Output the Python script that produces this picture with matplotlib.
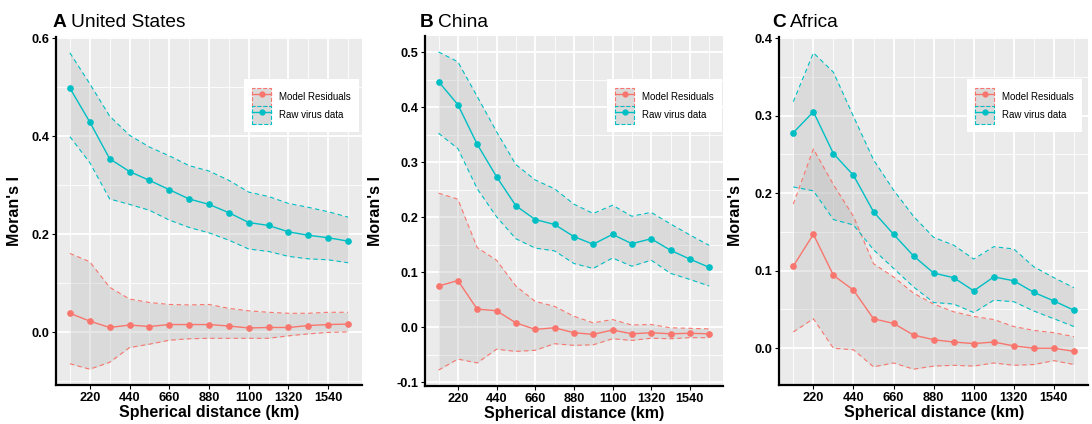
"""
Moran's I correlograms: raw virus data vs model residuals, three regions.
"""

import matplotlib
matplotlib.use("Agg")
import matplotlib.pyplot as plt
from matplotlib.lines import Line2D
from matplotlib.patches import Patch
from matplotlib.ticker import MultipleLocator

plt.rcParams["font.family"] = ["Liberation Sans", "DejaVu Sans"]

# --- data ---
distance = [110, 220, 330, 440, 550, 660, 770, 880, 990, 1100, 1210, 1320, 1430, 1540, 1650]

us_raw = [0.498, 0.429, 0.354, 0.328, 0.310, 0.291, 0.272, 0.261, 0.244, 0.224, 0.218, 0.205, 0.198, 0.193, 0.186]
us_raw_hi = [0.570, 0.507, 0.441, 0.402, 0.378, 0.360, 0.340, 0.329, 0.310, 0.286, 0.277, 0.263, 0.255, 0.246, 0.235]
us_raw_lo = [0.399, 0.346, 0.272, 0.261, 0.249, 0.229, 0.214, 0.203, 0.188, 0.170, 0.165, 0.155, 0.150, 0.148, 0.142]
us_res = [0.039, 0.023, 0.010, 0.015, 0.012, 0.016, 0.016, 0.016, 0.013, 0.009, 0.010, 0.010, 0.014, 0.016, 0.017]
us_res_hi = [0.161, 0.144, 0.092, 0.068, 0.061, 0.057, 0.056, 0.057, 0.049, 0.044, 0.041, 0.039, 0.039, 0.041, 0.041]
us_res_lo = [-0.064, -0.075, -0.061, -0.031, -0.024, -0.016, -0.013, -0.012, -0.012, -0.012, -0.012, -0.007, -0.003, 0.000, 0.001]

cn_raw = [0.447, 0.405, 0.333, 0.274, 0.221, 0.196, 0.187, 0.165, 0.151, 0.169, 0.152, 0.161, 0.140, 0.124, 0.109]
cn_raw_hi = [0.501, 0.483, 0.420, 0.356, 0.296, 0.268, 0.252, 0.224, 0.207, 0.222, 0.202, 0.209, 0.188, 0.168, 0.149]
cn_raw_lo = [0.353, 0.325, 0.252, 0.201, 0.161, 0.144, 0.139, 0.116, 0.107, 0.126, 0.111, 0.122, 0.098, 0.087, 0.075]
cn_res = [0.075, 0.085, 0.033, 0.030, 0.008, -0.004, -0.001, -0.010, -0.013, -0.005, -0.012, -0.010, -0.012, -0.011, -0.012]
cn_res_hi = [0.244, 0.233, 0.145, 0.122, 0.075, 0.047, 0.038, 0.020, 0.008, 0.014, 0.004, 0.005, -0.001, -0.002, -0.003]
cn_res_lo = [-0.078, -0.058, -0.065, -0.040, -0.044, -0.042, -0.030, -0.033, -0.032, -0.021, -0.024, -0.020, -0.021, -0.019, -0.019]

af_raw = [0.278, 0.305, 0.251, 0.223, 0.176, 0.147, 0.119, 0.097, 0.091, 0.074, 0.092, 0.087, 0.072, 0.061, 0.049]
af_raw_hi = [0.318, 0.381, 0.356, 0.299, 0.243, 0.204, 0.170, 0.143, 0.133, 0.115, 0.131, 0.128, 0.105, 0.091, 0.078]
af_raw_lo = [0.208, 0.203, 0.166, 0.159, 0.127, 0.103, 0.079, 0.059, 0.057, 0.046, 0.062, 0.060, 0.048, 0.038, 0.028]
af_res = [0.106, 0.147, 0.094, 0.075, 0.038, 0.032, 0.017, 0.011, 0.008, 0.006, 0.008, 0.003, 0.000, 0.000, -0.004]
af_res_hi = [0.186, 0.257, 0.211, 0.170, 0.109, 0.092, 0.071, 0.057, 0.047, 0.041, 0.037, 0.028, 0.023, 0.020, 0.015]
af_res_lo = [0.021, 0.038, 0.000, -0.002, -0.024, -0.019, -0.027, -0.023, -0.022, -0.023, -0.019, -0.022, -0.021, -0.016, -0.021]

panel_letters = ["A", "B", "C"]
panel_names = ["United States", "China", "Africa"]
x_ticks = [220, 440, 660, 880, 1100, 1320, 1540]

RED = "#F8766D"
TEAL = "#00BFC4"
PANEL_BG = "#EBEBEB"

W, H = 1092, 424
fig = plt.figure(figsize=(W / 100, H / 100), dpi=100)

# axes boxes in pixels: left, top, right, bottom
boxes = [(56, 37, 362, 385), (425, 36, 722.7, 386), (779.3, 37, 1088, 385)]
legend_corner = [(358.7, 79.3), (721.7, 79.3), (1081.7, 79.3)]
title_x = [53, 420, 772.7]
ylabel_x = [21.7, 382.7, 743]
y_major = [0.2, 0.1, 0.1]

panels = [
    (us_raw, us_raw_lo, us_raw_hi, us_res, us_res_lo, us_res_hi),
    (cn_raw, cn_raw_lo, cn_raw_hi, cn_res, cn_res_lo, cn_res_hi),
    (af_raw, af_raw_lo, af_raw_hi, af_res, af_res_lo, af_res_hi),
]

renderer = fig.canvas.get_renderer()

for i, (raw, raw_lo, raw_hi, res, res_lo, res_hi) in enumerate(panels):
    l, t, r, b = boxes[i]
    ax = fig.add_axes([l / W, 1 - b / H, (r - l) / W, (b - t) / H])
    ax.set_facecolor(PANEL_BG)

    # ribbons
    for lo, hi, col in [(res_lo, res_hi, RED), (raw_lo, raw_hi, TEAL)]:
        ax.fill_between(distance, lo, hi, color="#B3B3B3", alpha=0.3, lw=0, zorder=2)
        ax.plot(distance, lo, color=col, ls=(0, (4, 3)), lw=0.8, zorder=3)
        ax.plot(distance, hi, color=col, ls=(0, (4, 3)), lw=0.8, zorder=3)

    ax.plot(distance, res, color=RED, lw=1.0, marker="o", ms=3.8, zorder=4)
    ax.plot(distance, raw, color=TEAL, lw=1.0, marker="o", ms=3.8, zorder=4)

    # ggplot-like 5% expansion
    lo_all = min(res_lo + raw_lo)
    hi_all = max(res_hi + raw_hi)
    pad = 0.05 * (hi_all - lo_all)
    ax.set_ylim(lo_all - pad, hi_all + pad)
    ax.set_xlim(110 - 77, 1650 + 77)

    ax.set_xticks(x_ticks)
    ax.xaxis.set_minor_locator(MultipleLocator(110))
    ax.yaxis.set_major_locator(MultipleLocator(y_major[i]))
    ax.yaxis.set_minor_locator(MultipleLocator(y_major[i] / 2))
    ax.yaxis.set_major_formatter(plt.FormatStrFormatter("%.1f"))
    ax.grid(which="major", color="white", lw=1.3, zorder=0)
    ax.grid(which="minor", color="white", lw=0.6, zorder=0)
    ax.set_axisbelow(True)

    for side in ["top", "right"]:
        ax.spines[side].set_visible(False)
    for side in ["left", "bottom"]:
        ax.spines[side].set_color("black")
        ax.spines[side].set_linewidth(1.6)
    ax.tick_params(which="major", length=3, width=0.8, color="black",
                   labelsize=9.2, pad=2)
    ax.tick_params(which="minor", length=0)
    for lab in ax.get_xticklabels() + ax.get_yticklabels():
        lab.set_fontweight("bold")
        lab.set_color("black")

    ax.set_xlabel("Spherical distance (km)", fontsize=11.5, fontweight="bold", labelpad=1)
    ax.set_ylabel("Moran's I", fontsize=11.5, fontweight="bold")
    ax.yaxis.set_label_coords((ylabel_x[i] - l) / (r - l), 0.5)

    handles = [
        (Patch(facecolor="#DADADA", edgecolor=RED, ls="--", lw=0.8),
         Line2D([], [], color=RED, lw=1.0, marker="o", ms=3.5)),
        (Patch(facecolor="#DADADA", edgecolor=TEAL, ls="--", lw=0.8),
         Line2D([], [], color=TEAL, lw=1.0, marker="o", ms=3.5)),
    ]
    lx, ly = legend_corner[i]
    leg = ax.legend(handles, ["Model Residuals", "Raw virus data"],
                    loc="upper right", bbox_to_anchor=(lx / W, 1 - ly / H),
                    bbox_transform=fig.transFigure, borderaxespad=0,
                    fontsize=7, frameon=True, fancybox=False,
                    handlelength=1.9, handleheight=2.5, handletextpad=0.8,
                    labelspacing=0.0, borderpad=0.85)
    leg.get_frame().set_facecolor("white")
    leg.get_frame().set_edgecolor("white")
    leg.get_frame().set_linewidth(0)
    leg.get_frame().set_alpha(1)

    # panel title: bold letter + plain name
    ty = 1 - 27 / H
    t1 = fig.text(title_x[i] / W, ty, panel_letters[i], fontsize=13.8,
                  fontweight="bold", va="baseline", ha="left")
    ext = t1.get_window_extent(renderer=renderer)
    fig.text((ext.x1 + 4) / W, ty, panel_names[i], fontsize=13.8,
             va="baseline", ha="left")

fig.savefig("out.png", dpi=100)
